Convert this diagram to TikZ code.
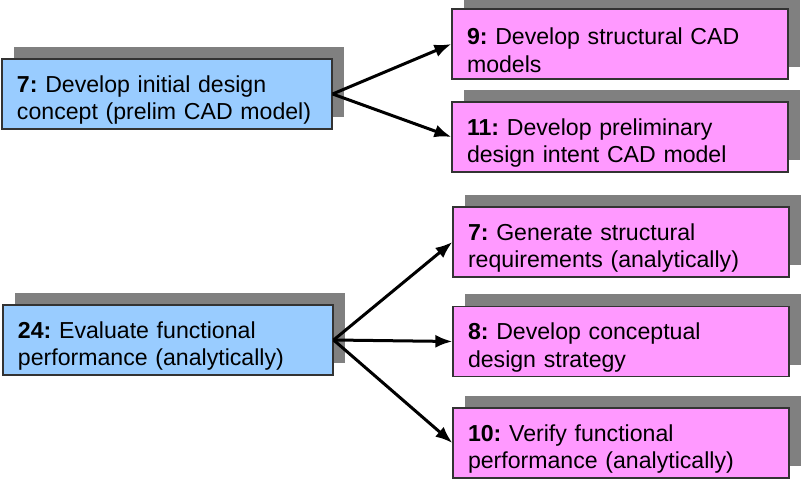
\documentclass[tikz,border=0pt]{standalone}
\usepackage{fontspec}
\setmainfont{Liberation Sans}
\usetikzlibrary{shadows,arrows.meta}
\definecolor{boxblue}{HTML}{99CCFF}
\definecolor{boxpink}{HTML}{FF99FF}
\definecolor{shadowgray}{HTML}{808080}
\tikzset{
  taskbox/.style={draw=black!80, line width=1.2bp, minimum height=70bp, inner xsep=15bp, inner ysep=2bp,
    align=left, font=\fontsize{23.2}{27.5}\selectfont\frenchspacing,
    execute at begin node={\rule{0pt}{29bp}},
    drop shadow={shadow xshift=12bp, shadow yshift=12bp, fill=shadowgray, opacity=1}},
  srcbox/.style={taskbox, fill=boxblue, text width=300bp},
  dstbox/.style={taskbox, fill=boxpink, text width=306bp},
  flow/.style={line width=3bp, -{Latex[length=17bp,width=13bp]}}
}
\begin{document}
\begin{tikzpicture}[x=1bp,y=-1bp]
\useasboundingbox (0,0) rectangle (801,485);
\node[srcbox] (a) at (167,94) {\textbf{7:} Develop initial design\\concept (prelim CAD model)};
\node[dstbox] (b9) at (620,44) {\textbf{9:} Develop structural CAD\\models};
\node[dstbox] (b11) at (620,137) {\textbf{11:} Develop preliminary\\design intent CAD model};
\node[srcbox] (c) at (168,340) {\textbf{24:} Evaluate functional\\performance (analytically)};
\node[dstbox] (d7) at (621,242) {\textbf{7:} Generate structural\\requirements (analytically)};
\node[dstbox] (d8) at (621,341.5) {\textbf{8:} Develop conceptual\\design strategy};
\node[dstbox] (d10) at (621,443) {\textbf{10:} Verify functional\\performance (analytically)};
\draw[flow] (a.east) -- (b9.west);
\draw[flow] (a.east) -- (b11.west);
\draw[flow] (c.east) -- (d7.west);
\draw[flow] (c.east) -- (d8.west);
\draw[flow] (c.east) -- (d10.west);
\end{tikzpicture}
\end{document}
